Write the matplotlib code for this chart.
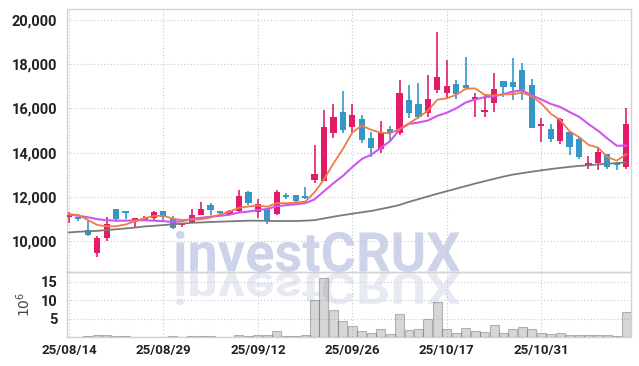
import matplotlib
matplotlib.use('Agg')
import matplotlib.pyplot as plt
import numpy as np
from matplotlib.textpath import TextPath
from matplotlib.patches import PathPatch
from matplotlib.transforms import Affine2D, IdentityTransform
from matplotlib.font_manager import FontProperties

plt.rcParams['font.family'] = ['Roboto', 'DejaVu Sans']

# trading days (KRX), 14 Aug - 13 Nov 2025
dates = ['2025-08-14', '2025-08-18', '2025-08-19', '2025-08-20', '2025-08-21', '2025-08-22',
         '2025-08-25', '2025-08-26', '2025-08-27', '2025-08-28', '2025-08-29',
         '2025-09-01', '2025-09-02', '2025-09-03', '2025-09-04', '2025-09-05',
         '2025-09-08', '2025-09-09', '2025-09-10', '2025-09-11', '2025-09-12',
         '2025-09-15', '2025-09-16', '2025-09-17', '2025-09-18', '2025-09-19',
         '2025-09-22', '2025-09-23', '2025-09-24', '2025-09-25', '2025-09-26',
         '2025-09-29', '2025-09-30', '2025-10-01', '2025-10-02', '2025-10-10',
         '2025-10-13', '2025-10-14', '2025-10-15', '2025-10-16', '2025-10-17',
         '2025-10-20', '2025-10-21', '2025-10-22', '2025-10-23', '2025-10-24',
         '2025-10-27', '2025-10-28', '2025-10-29', '2025-10-30', '2025-10-31',
         '2025-11-03', '2025-11-04', '2025-11-05', '2025-11-06', '2025-11-07',
         '2025-11-10', '2025-11-11', '2025-11-12', '2025-11-13']

opens = [11100, 11050, 10510, 9450, 10160, 11460, 11290, 10930, 10970, 11040,
         11370, 11040, 10720, 10890, 11190, 11640, 11320, 11220, 11380, 12240,
         11340, 11450, 11220, 12090, 12080, 12010, 12770, 12740, 14880, 15840,
         15150, 15520, 14680, 14155, 15070, 14880, 16380, 16200, 15780, 16830,
         16710, 17100, 17060, 16440, 15850, 16230, 17210, 17200, 17740, 17060,
         15200, 15070, 14540, 14920, 14620, 13400, 13520, 13940, 13520, 13340]
highs = [11330, 11100, 10930, 10230, 11110, 11460, 11300, 11060, 11120, 11380,
         11380, 11120, 10840, 11440, 11760, 11720, 11360, 11400, 12320, 12290,
         11900, 11490, 12320, 12200, 12100, 12470, 14350, 15930, 16200, 16790,
         16200, 15700, 14950, 15445, 15200, 17280, 17060, 17130, 17510, 19460,
         18180, 17280, 18300, 16680, 16650, 17590, 17210, 18260, 18030, 17310,
         15550, 15300, 15560, 14950, 14720, 13850, 14270, 13950, 13600, 16000]
lows = [10810, 10930, 10250, 9280, 10030, 10890, 10990, 10660, 10900, 10960,
        10960, 10540, 10630, 10880, 11190, 11190, 11220, 11180, 11340, 11640,
        11040, 10780, 11180, 11900, 11750, 11920, 12620, 12740, 14680, 14880,
        14950, 14450, 13790, 13970, 14540, 14800, 15550, 15510, 15630, 16680,
        16460, 16410, 16880, 15630, 15630, 15850, 16530, 16380, 16380, 15130,
        14500, 14500, 14390, 13900, 13700, 13250, 13220, 13250, 13220, 13250]
closes = [11150, 11000, 10290, 10150, 10780, 11010, 11270, 11040, 11050, 11310,
          11090, 10590, 10750, 11170, 11440, 11420, 11270, 11380, 12040, 11720,
          11680, 10930, 12230, 12020, 11800, 11950, 13040, 15150, 15630, 15030,
          15700, 14580, 14230, 14950, 14900, 16710, 15810, 15600, 16410, 17400,
          17010, 16650, 16910, 16530, 15930, 16860, 16940, 16950, 16830, 15130,
          15250, 14620, 15520, 14270, 13820, 13520, 14020, 13370, 13450, 15300]

# volume, millions of shares
volumes = [0.05, 0.1, 0.3, 0.5, 0.5, 0.3, 0.3, 0.1, 0.1, 0.1,
           0.1, 0.3, 0.1, 0.3, 0.3, 0.3, 0.1, 0.1, 0.6, 0.3,
           0.5, 0.6, 1.7, 0.2, 0.3, 0.6, 10.0, 15.9, 7.3, 4.2,
           3.0, 1.6, 1.0, 2.1, 0.9, 6.3, 1.9, 2.1, 4.8, 9.6,
           2.1, 1.0, 2.4, 1.6, 1.3, 3.2, 1.0, 2.1, 2.7, 2.1,
           1.0, 0.9, 1.0, 0.5, 0.5, 0.5, 0.5, 0.5, 0.2, 6.7]

# moving averages
ma5 = [11220, 11190, 10960, 10740, 10670, 10680, 10760, 10900, 11040, 11140,
       11160, 11020, 10960, 10980, 10990, 11070, 11210, 11340, 11510, 11570,
       11620, 11560, 11720, 11720, 11740, 11790, 12210, 12790, 13510, 14160,
       14910, 15220, 15030, 14900, 14870, 15070, 15320, 15590, 15890, 16390,
       16450, 16610, 16880, 16900, 16610, 16580, 16630, 16640, 16700, 16540,
       16220, 15760, 15470, 14960, 14700, 14350, 14230, 13800, 13640, 13930]
ma10 = [11220, 11150, 11085, 11000, 10950, 10930, 10930, 10940, 10950, 10930,
        10910, 10870, 10910, 11010, 11060, 11110, 11150, 11200, 11300, 11340,
        11410, 11460, 11580, 11630, 11670, 11720, 11890, 12260, 12620, 12950,
        13350, 13710, 13910, 14210, 14520, 15040, 15300, 15360, 15450, 15660,
        15800, 16000, 16260, 16400, 16500, 16540, 16640, 16760, 16810, 16580,
        16400, 16200, 16060, 15830, 15620, 15290, 14990, 14640, 14310, 14320]
ma_long = [10400, 10430, 10450, 10470, 10510, 10540, 10580, 10620, 10670, 10700,
           10730, 10770, 10800, 10835, 10850, 10870, 10885, 10900, 10915, 10930,
           10930, 10920, 10915, 10915, 10915, 10930, 10955, 11030, 11110, 11180,
           11245, 11310, 11370, 11455, 11540, 11640, 11780, 11900, 12025, 12145,
           12260, 12375, 12490, 12605, 12710, 12815, 12920, 13010, 13075, 13140,
           13200, 13260, 13310, 13360, 13400, 13430, 13470, 13500, 13530, 13560]

tick_idx = [0, 10, 20, 30, 40, 50]
price_ticks = [10000, 12000, 14000, 16000, 18000, 20000]
vol_ticks = [5, 10, 15]

up_col = '#e31c6a'
down_col = '#3596c8'
grid_col = '#c3c9de'
spine_col = '#d2d2d2'

x = np.arange(len(closes))
o = np.array(opens)
c = np.array(closes)
cols = [up_col if cc >= oo else down_col for oo, cc in zip(o, c)]

fig = plt.figure(figsize=(6.39, 3.66), dpi=100)
fig.patch.set_facecolor('white')
ax = fig.add_axes([67/639, 1 - 272/366, 564/639, 263/366])
axv = fig.add_axes([67/639, 1 - 337/366, 564/639, 65/366], sharex=ax)
for a in (ax, axv):
    a.set_facecolor('none')
    for s in a.spines.values():
        s.set_color(spine_col)
        s.set_linewidth(1.0)
    a.grid(True, color=grid_col, linestyle=(0, (1, 2)), linewidth=0.8)
    a.set_axisbelow(True)
    a.tick_params(length=0, colors='#222222', labelsize=10.5)

# watermark + reflection, drawn behind the axes
fp = FontProperties(family=['Roboto', 'DejaVu Sans'], weight='bold')
tp = TextPath((0, 0), 'investCRUX', size=50, prop=fp)
ext = tp.get_extents()
sx = 284 / ext.width
sy = 41 / ext.height
base = 366 - 272
t_main = Affine2D().translate(-ext.x0, -ext.y0).scale(sx, sy).translate(176, base)
t_refl = Affine2D().translate(-ext.x0, -ext.y0).scale(sx, -sy * 0.78).translate(176, base - 1)
for tf, col in ((t_main, '#cdd3e9'), (t_refl, '#e7e9f3')):
    p = PathPatch(tf.transform_path(tp), transform=IdentityTransform(),
                  facecolor=col, edgecolor='none', zorder=-5)
    fig.add_artist(p)

# candles
ax.vlines(x, lows, highs, colors=cols, linewidth=1.2, zorder=2)
body_lo = np.minimum(o, c)
body_h = np.maximum(np.abs(c - o), 80)
ax.bar(x, body_h, bottom=body_lo, width=0.66, color=cols, linewidth=0, zorder=3)

# moving averages
ax.plot(x, ma_long, color='#7a7a7a', linewidth=1.3, zorder=4)
ax.plot(x, ma10, color='#cf55ec', linewidth=1.5, zorder=4)
ax.plot(x, ma5, color='#ef7c45', linewidth=1.3, zorder=4)

ax.set_xlim(-0.2, 59.5)
ax.set_ylim(8615, 20480)
ax.set_yticks(price_ticks)
ax.set_yticklabels([f'{v:,}' for v in price_ticks], fontweight='bold')
ax.tick_params(axis='x', labelbottom=False)
ax.tick_params(axis='y', pad=7)

# volume
axv.bar(x, volumes, width=0.95, facecolor=(0.55, 0.55, 0.55, 0.35),
        edgecolor=(0.42, 0.42, 0.42, 0.45), linewidth=0.8, zorder=3)
axv.set_ylim(0, 17.6)
axv.set_yticks(vol_ticks)
axv.set_yticklabels([str(v) for v in vol_ticks], fontweight='bold')
axv.set_xticks(tick_idx)
axv.set_xticklabels([dates[i][2:].replace('-', '/') for i in tick_idx],
                    fontweight='bold', fontsize=9.5)
axv.tick_params(axis='x', pad=5)
axv.tick_params(axis='y', pad=7)
axv.set_ylabel(r'$10^6$', fontsize=10, color='#444444')
axv.yaxis.set_label_coords(-0.06, 0.5)

fig.savefig('out.png', dpi=100)
